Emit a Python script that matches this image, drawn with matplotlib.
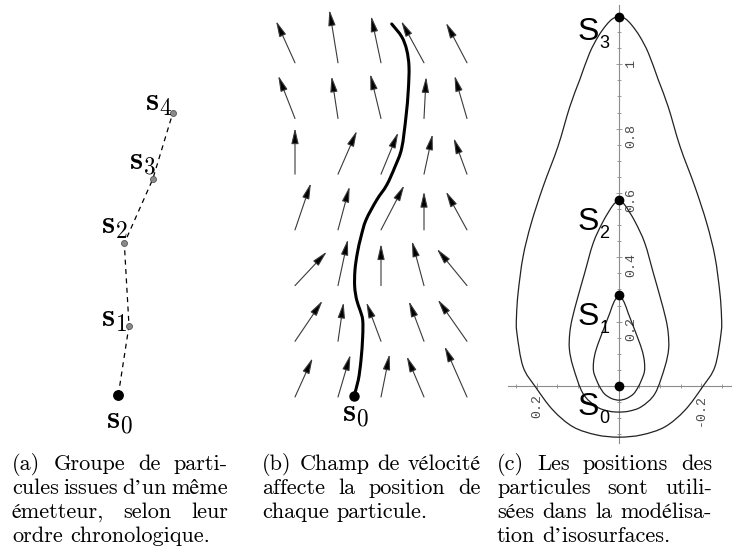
import numpy as np
import matplotlib
matplotlib.use("Agg")
import matplotlib.pyplot as plt
from matplotlib.path import Path
from matplotlib.patches import PathPatch
from matplotlib.transforms import IdentityTransform

plt.rcParams['mathtext.fontset'] = 'cm'
plt.rcParams['axes.unicode_minus'] = False

# ---------------- data ----------------
# (a) particles of one emitter, chronological order
A_LABELS = ['0', '1', '2', '3', '4']
A_X = [0.583, 0.690, 0.643, 0.927, 1.127]
A_Y = [0.450, 1.143, 1.967, 2.607, 3.267]

# (b) velocity field on a 5 x 7 grid (rows listed bottom -> top)
B_COLS = [0, 1, 2, 3, 4]
B_ROWS = [0, 1, 2, 3, 4, 5, 6]
B_U = [[0.41, 0.29, 0.20, -0.40, -0.52],
       [0.64, 0.13, -0.34, -0.35, -0.68],
       [0.74, 0.23, 0.00, -0.28, -0.70],
       [0.37, 0.27, 0.54, 0.00, -0.49],
       [0.00, 0.44, 0.40, 0.20, -0.31],
       [-0.39, -0.15, -0.25, 0.05, -0.29],
       [-0.44, -0.20, -0.23, -0.53, -0.49]]
B_V = [[0.70, 0.76, 0.77, 0.73, 0.91],
       [0.73, 0.70, 0.70, 0.72, 0.75],
       [0.61, 0.83, 0.75, 0.80, 0.66],
       [0.84, 0.78, 0.80, 0.69, 0.69],
       [0.83, 0.78, 0.75, 0.72, 0.65],
       [0.77, 0.76, 0.80, 0.75, 0.77],
       [0.75, 0.95, 0.84, 0.75, 0.72]]
# trajectory of particle s0
B_PATH_X = [1.372, 1.472, 1.535, 1.574, 1.574, 1.512, 1.435, 1.388, 1.395, 1.449,
            1.535, 1.651, 1.900, 2.133, 2.326, 2.481, 2.581, 2.635, 2.651, 2.598,
            2.481, 2.249]
B_PATH_Y = [0.023, 0.305, 0.664, 1.083, 1.382, 1.562, 1.741, 1.980, 2.280, 2.580,
            2.878, 3.178, 3.537, 3.806, 4.135, 4.465, 5.032, 5.512, 5.930, 6.230,
            6.469, 6.697]

# (c) isosurfaces: seed positions and half-width profiles (apex -> bottom)
C_LABELS = ['0', '1', '2', '3']
C_SEED_Y = [0.0, 0.283, 0.578, 1.148]
C_INNER_W = [0.0, 0.012, 0.022, 0.035, 0.047, 0.057, 0.062, 0.062, 0.055, 0.046, 0.035, 0.018, 0.0]
C_INNER_Y = [0.283, 0.262, 0.228, 0.185, 0.145, 0.108, 0.075, 0.045, 0.019, -0.005, -0.025, -0.039, -0.044]
C_MID_W = [0.0, 0.0146, 0.039, 0.063, 0.084, 0.100, 0.114, 0.120, 0.121, 0.112, 0.088, 0.055, 0.025, 0.0]
C_MID_Y = [0.578, 0.562, 0.511, 0.444, 0.350, 0.278, 0.210, 0.165, 0.115, 0.060, -0.023, -0.064, -0.078, -0.081]
C_OUT_W = [0.0, 0.015, 0.031, 0.051, 0.072, 0.096, 0.120, 0.149, 0.185, 0.214, 0.234, 0.246,
           0.250, 0.249, 0.234, 0.203, 0.161, 0.112, 0.055, 0.0]
C_OUT_Y = [1.148, 1.142, 1.122, 1.086, 1.034, 0.951, 0.868, 0.744, 0.620, 0.506, 0.402, 0.290,
           0.215, 0.165, 0.060, -0.004, -0.075, -0.127, -0.152, -0.159]
C_YTICKS = [0.2, 0.4, 0.6, 0.8, 1.0]
C_YTICKLABELS = ['0.2', '0.4', '0.6', '0.8', '1']
C_XTICKS = [0.2, -0.2]
C_XTICKLABELS = ['0.2', '-0.2']
C_YMINOR = [-0.15, -0.1, -0.05, 0.05, 0.1, 0.15, 0.25, 0.3, 0.35, 0.45, 0.5, 0.55, 0.65, 0.7,
            0.75, 0.85, 0.9, 0.95, 1.05, 1.1, 1.15]
C_XMINOR = [0.25, 0.15, 0.1, 0.05, -0.05, -0.1, -0.15, -0.25]

CAP_A = ["(a) Groupe de parti-", "cules issues d’un même", "émetteur, selon leur", "ordre chronologique."]
CAP_B = ["(b) Champ de vélocité", "affecte la position de", "chaque particule."]
CAP_C = ["(c) Les positions des", "particules sont utili-", "sées dans la modélisa-", "tion d’isosurfaces."]

# ---------------- figure ----------------
W, H = 732, 558
fig = plt.figure(figsize=(W / 100, H / 100), dpi=100)


def px_axes(l, t, r, b):
    ax = fig.add_axes([l / W, 1 - b / H, (r - l) / W, (b - t) / H])
    return ax


def smooth_path(x, y):
    P = np.column_stack([x, y]).astype(float)
    n = len(P)
    verts = [P[0]]
    codes = [Path.MOVETO]
    for k in range(n - 1):
        p0 = P[k - 1] if k > 0 else P[k]
        p1, p2 = P[k], P[k + 1]
        p3 = P[k + 2] if k + 2 < n else P[k + 1]
        verts += [p1 + (p2 - p0) / 6.0, p2 - (p3 - p1) / 6.0, p2]
        codes += [Path.CURVE4] * 3
    return Path(verts, codes)


# ---- panel (a)
axa = px_axes(60, 80, 220, 440)
axa.set_xlim(0, 1.6)
axa.set_ylim(0, 3.6)
axa.axis('off')
axa.plot(A_X, A_Y, color='black', lw=0.9, ls=(0, (4, 3.5)), zorder=1)
axa.plot(A_X[0], A_Y[0], 'o', color='black', ms=6.8, zorder=3)
axa.plot(A_X[1:], A_Y[1:], 'o', ls='none', mfc='#8a8a8a', mec='#555555', mew=0.6, ms=4.3, zorder=3)
A_OFF = [(-12, -33), (-28, -1), (-23, 10), (-23.5, 10), (-28, 3)]
for lab, x, y, off in zip(A_LABELS, A_X, A_Y, A_OFF):
    axa.annotate(r'$\mathbf{s}_{%s}$' % lab, (x, y), xytext=off, textcoords='offset pixels',
                 ha='left', va='baseline', fontsize=24)

# ---- panel (b)
axb = px_axes(262.75, 1.53, 499.25, 441.56)
axb.set_xlim(-0.75, 4.75)
axb.set_ylim(-0.8, 7.1)
axb.axis('off')
for j, row in enumerate(B_ROWS):
    for i, col in enumerate(B_COLS):
        axb.annotate('', xy=(col + B_U[j][i], row + B_V[j][i]), xytext=(col, row),
                     arrowprops=dict(arrowstyle='-|>,head_length=0.95,head_width=0.22',
                                     mutation_scale=10, lw=0.8, edgecolor='#3a3a3a',
                                     facecolor='black', shrinkA=0, shrinkB=0))
axb.add_patch(PathPatch(smooth_path(B_PATH_X, B_PATH_Y), fill=False, lw=2.2,
                        edgecolor='black', capstyle='round', zorder=4))
axb.plot(B_PATH_X[0], B_PATH_Y[0], 'o', color='black', ms=6.5, zorder=5)
axb.annotate(r'$\mathbf{s}_{0}$', (B_PATH_X[0], B_PATH_Y[0]), xytext=(-12, -25),
             textcoords='offset pixels', ha='left', va='baseline', fontsize=24)

# ---- panel (c)
axc = px_axes(508, 5, 732, 443)
axc.set_xlim(0.2707, -0.2756)
axc.set_ylim(-0.1772, 1.1843)
axc.patch.set_alpha(0)
axc.spines['top'].set_visible(False)
axc.spines['left'].set_position(('data', 0))
axc.spines['right'].set_position(('data', 0))
axc.spines['right'].set_visible(False)
axc.spines['bottom'].set_position(('data', 0))
for s in ['left', 'bottom']:
    axc.spines[s].set_color('#8c8c8c')
    axc.spines[s].set_linewidth(0.8)
axc.set_yticks(C_YTICKS)
axc.set_yticklabels(C_YTICKLABELS)
axc.set_yticks(C_YMINOR, minor=True)
axc.set_xticks(C_XTICKS)
axc.set_xticklabels(C_XTICKLABELS)
axc.set_xticks(C_XMINOR, minor=True)
axc.tick_params(axis='y', which='both', left=True, right=False, labelleft=False,
                labelright=True, direction='inout', color='#8c8c8c', width=0.6,
                labelrotation=90, pad=2)
axc.tick_params(axis='x', which='both', bottom=True, top=False, labelbottom=True,
                direction='inout', color='#8c8c8c', width=0.6, labelrotation=90, pad=3)
axc.tick_params(which='major', length=5)
axc.tick_params(which='minor', length=3.5)
for lbl in axc.get_xticklabels() + axc.get_yticklabels():
    lbl.set_fontfamily('Liberation Mono')
    lbl.set_fontsize(9.5)
    lbl.set_color('#4a4a4a')

for wv, yv in [(C_INNER_W, C_INNER_Y), (C_MID_W, C_MID_Y), (C_OUT_W, C_OUT_Y)]:
    w = np.asarray(wv)
    y = np.asarray(yv)
    xs = np.concatenate([-w, w[::-1][1:]])
    ys = np.concatenate([y, y[::-1][1:]])
    axc.add_patch(PathPatch(smooth_path(xs, ys), fill=False, lw=0.9, edgecolor='#222222', zorder=3))

axc.plot(np.zeros(len(C_SEED_Y)), C_SEED_Y, 'o', ls='none', color='black', ms=6, zorder=5,
         clip_on=False)
S_DY = [21, 21.7, 21.7, 15]
for lab, y, dy in zip(C_LABELS, C_SEED_Y, S_DY):
    axc.annotate('S', (0, y), xytext=(-31, -dy), textcoords='offset pixels', ha='center',
                 va='center', fontsize=23, family='Liberation Sans', zorder=6)
    axc.annotate(lab, (0, y), xytext=(-31 + 16.5, -dy - 12), textcoords='offset pixels',
                 ha='center', va='center', fontsize=13, family='Liberation Sans', zorder=6)

# ---- captions (justified)
CAP_FONT = ['cmr10', 'STIXGeneral', 'DejaVu Serif']
CAP_FS = 16
renderer = fig.canvas.get_renderer()


def draw_caption(lines, x0, x1, baselines):
    for k, (line, yb) in enumerate(zip(lines, baselines)):
        words = line.split(' ')
        texts = [fig.text(0, 0, wd, fontsize=CAP_FS, family=CAP_FONT, ha='left', va='baseline',
                          transform=IdentityTransform()) for wd in words]
        widths = [t.get_window_extent(renderer).width for t in texts]
        last = (k == len(lines) - 1)
        if last or len(words) == 1:
            gap = 0.333 * CAP_FS * 100 / 72
        else:
            gap = (x1 - x0 - sum(widths)) / (len(words) - 1)
        x = x0
        for t, wd in zip(texts, widths):
            t.set_position((x, H - yb))
            x += wd + gap


BASELINES = [470, 494, 518, 542]
draw_caption(CAP_A, 12, 228, BASELINES)
draw_caption(CAP_B, 262, 481, BASELINES)
draw_caption(CAP_C, 497, 712, BASELINES)

fig.savefig('out.png', dpi=100)
